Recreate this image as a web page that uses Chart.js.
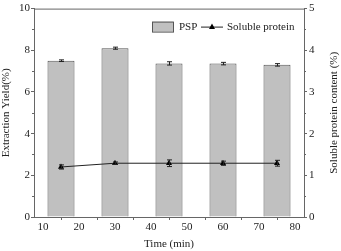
<!DOCTYPE html>
<html>
<head>
<meta charset="utf-8">
<script src="https://cdn.jsdelivr.net/npm/chart.js@4.4.1/dist/chart.umd.min.js"></script>
<style>
  html, body { margin: 0; padding: 0; background: #fff; }
  #wrap { width: 341px; height: 251px; }
</style>
</head>
<body>
<div id="wrap"><canvas id="grafica" width="341" height="251"></canvas></div>
<script>
// datos
var tiempos = [15, 30, 45, 60, 75];
var rendimiento_psp = [7.5, 8.1, 7.37, 7.36, 7.3];
var error_psp = [0.04, 0.05, 0.08, 0.06, 0.06];
var proteina_soluble = [1.2, 1.29, 1.29, 1.29, 1.29];
var error_proteina = [0.05, 0.03, 0.08, 0.05, 0.07];

var ticks_x = [10, 20, 30, 40, 50, 60, 70, 80];
var ticks_x_menores = [15, 25, 35, 45, 55, 65, 75];
var ticks_y = [0, 2, 4, 6, 8, 10];
var ticks_y_menores = [1, 3, 5, 7, 9];
var ticks_y2 = [0, 1, 2, 3, 4, 5];
var ticks_y2_menores = [0.5, 1.5, 2.5, 3.5, 4.5];

var titulo_y2 = 'Soluble protein content (%)';

var fuente = { family: "'Liberation Serif', 'DejaVu Serif', serif", size: 11 };
var color_eje = "#666";
var color_texto = "#222";

function fijaTicks(valores)
{
	return function (scale) {
		scale.ticks = valores.map(function (v) { return { value: v }; });
	};
}

// barras de error, ticks menores, leyenda y titulo derecho
var pluginExtras = {
	id: 'extras',
	afterDatasetsDraw: function (chart) {
		var ctx = chart.ctx;
		var x = chart.scales.x;
		ctx.save();
		chart.data.datasets.forEach(function (ds, i) {
			if (!ds.errores) return;
			var y = chart.scales[ds.yAxisID];
			ctx.strokeStyle = "#222";
			ctx.lineWidth = 1;
			for (var k = 0; k < tiempos.length; k++)
			{
				var px = Math.round(x.getPixelForValue(tiempos[k])) + 0.5;
				var v = ds.valores[k];
				var e = ds.errores[k];
				var y1 = y.getPixelForValue(v - e);
				var y2 = y.getPixelForValue(v + e);
				ctx.beginPath();
				ctx.moveTo(px, y1); ctx.lineTo(px, y2);
				ctx.moveTo(px - 2.5, y1); ctx.lineTo(px + 2.5, y1);
				ctx.moveTo(px - 2.5, y2); ctx.lineTo(px + 2.5, y2);
				ctx.stroke();
			}
		});
		ctx.restore();
	},
	afterDraw: function (chart) {
		var ctx = chart.ctx;
		var area = chart.chartArea;
		var x = chart.scales.x, y = chart.scales.y, y2 = chart.scales.y2;
		ctx.save();
		ctx.strokeStyle = color_eje;
		ctx.lineWidth = 1;
		ctx.beginPath();
		// borde superior
		ctx.moveTo(area.left, area.top + 0.5); ctx.lineTo(area.right, area.top + 0.5);
		ticks_x_menores.forEach(function (v) {
			var px = Math.round(x.getPixelForValue(v)) + 0.5;
			ctx.moveTo(px, area.bottom); ctx.lineTo(px, area.bottom + 2);
		});
		ticks_y_menores.forEach(function (v) {
			var py = Math.round(y.getPixelForValue(v)) + 0.5;
			ctx.moveTo(area.left, py); ctx.lineTo(area.left - 2, py);
		});
		ticks_y2_menores.forEach(function (v) {
			var py = Math.round(y2.getPixelForValue(v)) + 0.5;
			ctx.moveTo(area.right, py); ctx.lineTo(area.right + 2, py);
		});
		ctx.stroke();

		ctx.font = fuente.size + "px " + fuente.family;
		ctx.fillStyle = color_texto;

		// titulo del eje derecho, leido de abajo hacia arriba
		ctx.save();
		ctx.translate(chart.width - 7, (area.top + area.bottom) / 2);
		ctx.rotate(-Math.PI / 2);
		ctx.textAlign = "center";
		ctx.textBaseline = "middle";
		ctx.fillText(titulo_y2, 0, 0);
		ctx.restore();

		// leyenda
		var dsBarra = chart.data.datasets[1];
		var dsLinea = chart.data.datasets[0];
		var lx = area.left + 118, ly = area.top + 18;
		ctx.fillStyle = dsBarra.backgroundColor;
		ctx.fillRect(lx, ly - 5, 21, 10);
		ctx.strokeStyle = dsBarra.borderColor;
		ctx.strokeRect(lx + 0.5, ly - 4.5, 21, 10);
		ctx.fillStyle = color_texto;
		ctx.textBaseline = "middle";
		ctx.fillText(dsBarra.label, lx + 27, ly + 1);
		var lx2 = lx + 49;
		ctx.strokeStyle = dsLinea.borderColor;
		ctx.beginPath();
		ctx.moveTo(lx2, ly + 0.5); ctx.lineTo(lx2 + 22, ly + 0.5);
		ctx.stroke();
		ctx.fillStyle = "#000";
		ctx.beginPath();
		ctx.moveTo(lx2 + 11, ly - 3); ctx.lineTo(lx2 + 14, ly + 2.5); ctx.lineTo(lx2 + 8, ly + 2.5);
		ctx.closePath(); ctx.fill();
		ctx.fillStyle = color_texto;
		ctx.fillText(dsLinea.label, lx2 + 26, ly + 1);
		ctx.restore();
	}
};

var canvas = document.getElementById('grafica');
var contexto = canvas.getContext('2d');

new Chart(contexto, {
	type: 'bar',
	data: {
		datasets: [{
			type: 'line',
			label: 'Soluble protein',
			data: tiempos.map(function (t, i) { return { x: t, y: proteina_soluble[i] }; }),
			valores: proteina_soluble,
			errores: error_proteina,
			yAxisID: 'y2',
			borderColor: '#222',
			borderWidth: 1,
			pointStyle: 'triangle',
			pointRadius: 3.5,
			pointBackgroundColor: '#000',
			pointBorderColor: '#000',
			pointBorderWidth: 0,
			tension: 0,
			order: 0
		}, {
			label: 'PSP',
			data: tiempos.map(function (t, i) { return { x: t, y: rendimiento_psp[i] }; }),
			valores: rendimiento_psp,
			errores: error_psp,
			yAxisID: 'y',
			backgroundColor: '#c0c0c0',
			borderColor: '#555',
			borderWidth: { top: 1, left: 1, right: 1, bottom: 0 },
			categoryPercentage: 1,
			barPercentage: 0.75,
			order: 1
		}]
	},
	options: {
		responsive: false,
		animation: false,
		layout: { padding: { top: 5, left: 0, right: 0, bottom: 0 } },
		plugins: {
			legend: { display: false },
			tooltip: { enabled: false }
		},
		scales: {
			x: {
				type: 'linear',
				min: 7.5,
				max: 82.5,
				offset: false,
				afterBuildTicks: fijaTicks(ticks_x),
				afterFit: function (s) { s.height = 34; },
				grid: { drawOnChartArea: false, tickLength: 3, color: color_eje },
				border: { color: color_eje },
				ticks: { font: fuente, color: color_texto, padding: 1, maxRotation: 0 },
				title: { display: true, text: 'Time (min)', font: fuente, color: color_texto, padding: { top: 0, bottom: 0 } }
			},
			y: {
				position: 'left',
				min: 0,
				max: 10,
				afterBuildTicks: fijaTicks(ticks_y),
				afterFit: function (s) { s.width = 34; },
				grid: { drawOnChartArea: false, tickLength: 3, color: color_eje },
				border: { color: color_eje },
				ticks: { font: fuente, color: color_texto, padding: 1 },
				title: { display: true, text: 'Extraction Yield(%)', font: fuente, color: color_texto, padding: { top: 0, bottom: 0 } }
			},
			y2: {
				position: 'right',
				min: 0,
				max: 5,
				afterBuildTicks: fijaTicks(ticks_y2),
				afterFit: function (s) { s.width = 37; },
				grid: { drawOnChartArea: false, tickLength: 3, color: color_eje },
				border: { color: color_eje },
				ticks: { font: fuente, color: color_texto, padding: 2 }
			}
		}
	},
	plugins: [pluginExtras]
});
</script>
</body>
</html>
